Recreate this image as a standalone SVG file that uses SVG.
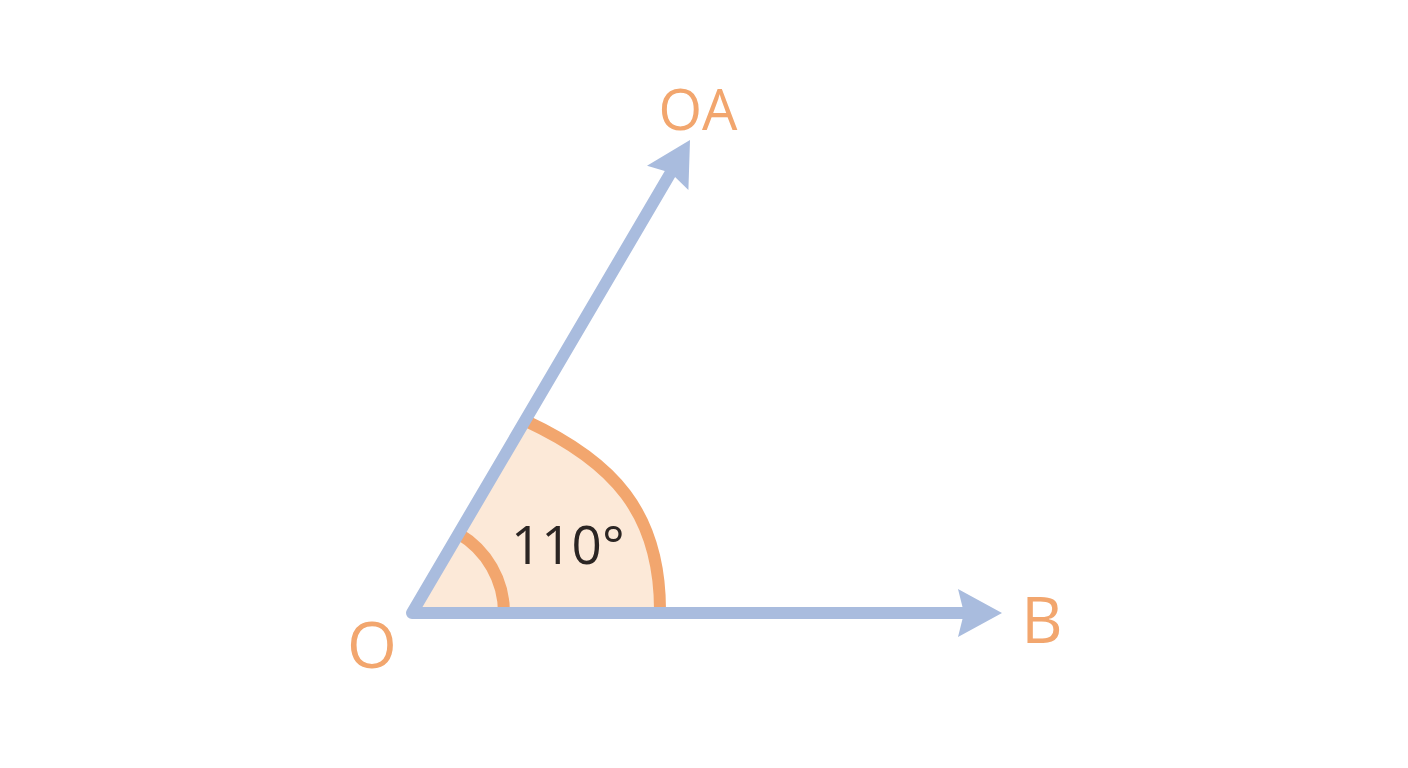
<svg xmlns="http://www.w3.org/2000/svg" width="1408" height="768" viewBox="0 0 1408 768">
  <style>
    .lbl { font-family: "Open Sans", "Noto Sans", "Liberation Sans", sans-serif; fill: #F2A66E; }
    .ang { font-family: "Open Sans", "Noto Sans", "Liberation Sans", sans-serif; fill: #2B2523; }
    .ray { fill: none; stroke: #A9BCDE; stroke-width: 12; stroke-linecap: round; stroke-linejoin: round; }
    .head { fill: #A9BCDE; }
    .arc { fill: none; stroke: #F2A66E; stroke-width: 12; }
  </style>
  <rect x="0" y="0" width="1408" height="768" fill="#FFFFFF"/>
  <g id="angle-sector">
    <path d="M 412,613 L 526,421 C 612,461 661,512 660,613 Z" fill="#FCE9D8"/>
    <path class="arc" d="M 526,421 C 612,461 661,512 660,613"/>
    <path class="arc" stroke-width="11" d="M 458.6,533.7 A 92 92 0 0 1 504,613"/>
  </g>
  <g id="connectors">
    <polyline class="ray" points="964,613 412,613 670.7,172.8"/>
    <path class="head" d="M 1002,613 L 958,589 L 964,613 L 958,637 Z"/>
    <path class="head" d="M 690,140 L 647,165.7 L 670.7,172.8 L 688.4,190.1 Z"/>
  </g>
  <g id="label-110">
    <text class="ang" x="511" y="564" font-size="53">110°</text>
  </g>
  <g id="node-OA">
    <text class="lbl" x="698" y="130" font-size="56" text-anchor="middle">OA</text>
  </g>
  <g id="node-B">
    <text class="lbl" x="1042" y="643" font-size="64" text-anchor="middle">B</text>
  </g>
  <g id="node-O">
    <text class="lbl" x="372" y="668" font-size="64" text-anchor="middle">O</text>
  </g>
</svg>
